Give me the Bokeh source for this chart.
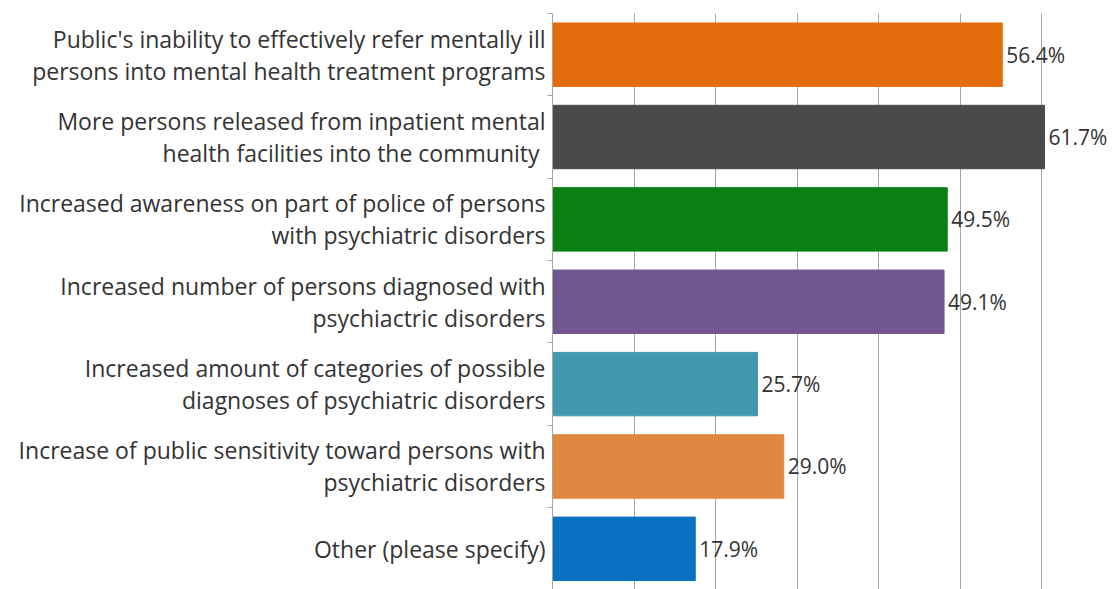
from bokeh.plotting import figure
from bokeh.models import Range1d, FixedTicker, ColumnDataSource
from bokeh.core.properties import value
from bokeh.embed import file_html
from bokeh.resources import INLINE

categories = [
    "Public's inability to effectively refer mentally ill\npersons into mental health treatment programs",
    "More persons released from inpatient mental\nhealth facilities into the community ",
    "Increased awareness on part of police of persons\nwith psychiatric disorders",
    "Increased number of persons diagnosed with\npsychiactric disorders",
    "Increased amount of categories of possible\ndiagnoses of psychiatric disorders",
    "Increase of public sensitivity toward persons with\npsychiatric disorders",
    "Other (please specify)",
]
values = [56.4, 61.7, 49.5, 49.1, 25.7, 29.0, 17.9]
colors = ["#E36C0A", "#4A4A4A", "#0A8012", "#72568F", "#4198AF", "#E0883F", "#0A70C0"]
labels = [f"{v:.1f}%" for v in values]

pos = list(range(len(categories)))
src = ColumnDataSource(dict(y=pos, v=values, c=colors, lab=labels))

p = figure(width=1115, height=589, output_backend="svg", toolbar_location=None,
           x_range=Range1d(0, 70.6), y_range=Range1d(6.494, -0.5),
           x_axis_location=None, min_border_left=552, min_border_top=13,
           min_border_bottom=0, min_border_right=0)
p.outline_line_color = None
p.background_fill_color = "white"

p.hbar(y="y", right="v", left=0, height=0.77, color="c", source=src)
p.text(x="v", y="y", text="lab", source=src, x_offset=4,
       text_align="left", text_baseline="middle", text_font=value("Open Sans"),
       text_font_size="21px", text_color="#333333")

# grid
p.xgrid.ticker = FixedTicker(ticks=[10.23 * k for k in range(1, 7)])
p.xgrid.grid_line_color = "#A6A6A6"
p.ygrid.grid_line_color = None

ax = p.yaxis[0]
ax.ticker = FixedTicker(ticks=pos, minor_ticks=[k - 0.5 for k in range(len(pos) + 1)])
ax.major_label_overrides = {i: c for i, c in enumerate(categories)}
ax.major_tick_out = 0
ax.major_tick_in = 0
ax.minor_tick_out = 5
ax.minor_tick_in = 0
ax.minor_tick_line_color = "#A6A6A6"
ax.axis_line_color = "#A6A6A6"
ax.major_label_text_font = "Open Sans"
ax.major_label_text_font_size = "23px"
ax.major_label_text_line_height = 1.0
ax.major_label_text_color = "#333333"
ax.major_label_standoff = 2

open("out.html", "w").write(file_html(p, INLINE))
